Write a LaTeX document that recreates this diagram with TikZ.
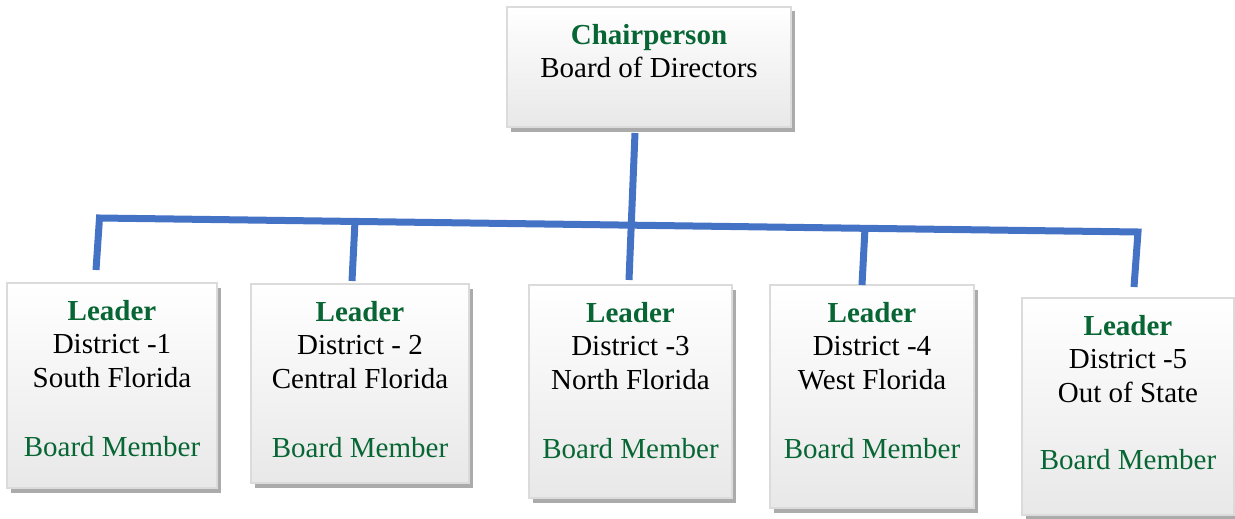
\documentclass[tikz,border=0pt]{standalone}
\usepackage{fontspec}
\setmainfont{Liberation Serif}
\usetikzlibrary{shadows}
\definecolor{lgreen}{RGB}{8,102,52}
\definecolor{lblue}{RGB}{68,114,196}
\tikzset{
  orgbox/.style={rectangle, draw=black!14, line width=1.5pt, top color=white, bottom color=black!9,
    general shadow={fill=black!33, shadow xshift=3.5pt, shadow yshift=-4.5pt}, inner sep=0pt},
  orgtext/.style={anchor=north, align=center, inner sep=0pt, font=\fontsize{29}{33.5}\selectfont},
  link/.style={draw=lblue, line width=7pt}
}
\newcommand{\hd}[1]{\textcolor{lgreen}{\textbf{#1}}}
\newcommand{\bm}{\textcolor{lgreen}{Board Member}}
\begin{document}
\begin{tikzpicture}[x=1pt,y=-1pt]
\useasboundingbox (0,0) rectangle (1235,519);
% boxes
\node[orgbox, minimum width=284pt, minimum height=120pt] (top) at (649,67) {};
\node[orgbox, minimum width=210pt, minimum height=205pt] (b1) at (112,385.5) {};
\node[orgbox, minimum width=218pt, minimum height=199pt] (b2) at (360,383.5) {};
\node[orgbox, minimum width=203pt, minimum height=213pt] (b3) at (630.5,391.5) {};
\node[orgbox, minimum width=204pt, minimum height=223pt] (b4) at (872,396.5) {};
\node[orgbox, minimum width=212pt, minimum height=217pt] (b5) at (1128,406.5) {};
% texts
\node[orgtext] (t0) at (649,24) {\hd{Chairperson}\\Board of Directors};
\node[orgtext] (t1) at (112,300) {\hd{Leader}\\District -1\\South Florida\\[36pt]\bm};
\node[orgtext] (t2) at (360,301) {\hd{Leader}\\District - 2\\Central Florida\\[36pt]\bm};
\node[orgtext] (t3) at (630.5,302) {\hd{Leader}\\District -3\\North Florida\\[36pt]\bm};
\node[orgtext] (t4) at (872,302) {\hd{Leader}\\District -4\\West Florida\\[36pt]\bm};
\node[orgtext] (t5) at (1128,315) {\hd{Leader}\\District -5\\Out of State\\[34pt]\bm};
% connector coordinates
\coordinate (v0a) at (635,133);
\coordinate (v0b) at (629,280);
\coordinate (c1) at (96,270);
\coordinate (cl) at (99.5,218);
\coordinate (cr) at (1138,232);
\coordinate (c5) at (1134,287);
\coordinate (c2a) at (355,221.5);
\coordinate (c2b) at (352,281);
\coordinate (c4a) at (865,228.3);
\coordinate (c4b) at (862,285);
% connectors
\path[link] (c1) -- (cl) -- (cr) -- (c5);
\path[link] (v0a) -- (v0b);
\path[link] (c2a) -- (c2b);
\path[link] (c4a) -- (c4b);
\end{tikzpicture}
\end{document}
